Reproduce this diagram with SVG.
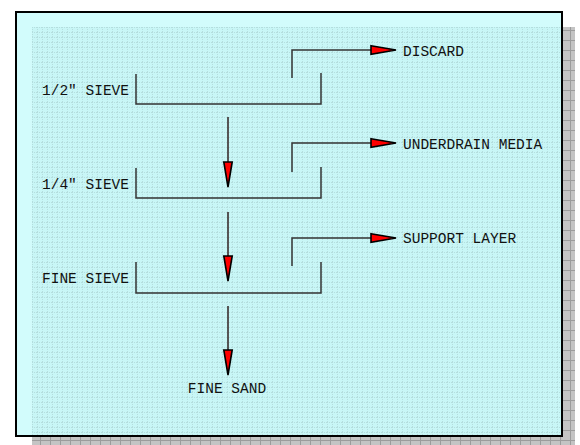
<svg xmlns="http://www.w3.org/2000/svg" width="580" height="445" viewBox="0 0 580 445">
<defs>
<pattern id="shgrid" x="0" y="0" width="10" height="10" patternUnits="userSpaceOnUse">
<rect width="10" height="10" fill="#c4c4c4"/>
<path d="M0 0.5H10M0.5 0V10" stroke="#9c9c9c" stroke-width="1"/>
</pattern>
<pattern id="dots" x="32" y="27" width="5" height="5" patternUnits="userSpaceOnUse">
<rect width="5" height="5" fill="#c8f6f6"/>
<path d="M0 0.5H5M0.5 0V5" stroke="#b4dede" stroke-width="1" stroke-dasharray="1 1"/>
</pattern>
<marker id="ah" markerUnits="userSpaceOnUse" markerWidth="30" markerHeight="14" refX="0" refY="5" orient="auto" overflow="visible">
<path d="M0 0.8 L25 5 L0 9.2 Z" fill="#ff0000" stroke="#000" stroke-width="1.6" stroke-linejoin="miter"/>
</marker>
</defs>
<style>
.ln{fill:none;stroke:#333;stroke-width:1.5}
.ar{fill:none;stroke:#555;stroke-width:2}
.t{font-family:"Liberation Mono","DejaVu Sans Mono",monospace;font-size:14.5px;fill:#111}
</style>
<rect x="0" y="0" width="580" height="445" fill="#fff"/>
<rect x="32" y="27" width="543" height="418" fill="url(#shgrid)"/>
<rect x="16" y="12" width="546" height="424" fill="#d2fcfc" stroke="#000" stroke-width="2"/>
<rect x="32" y="27" width="529" height="408" fill="url(#dots)"/>

<g id="sieve1">
<path class="ln" d="M136 74V104H321V73"/>
<text class="t" x="129" y="95" text-anchor="end">1/2" SIEVE</text>
</g>
<g id="sieve2">
<path class="ln" d="M136 168V198H321V167"/>
<text class="t" x="129" y="189" text-anchor="end">1/4" SIEVE</text>
</g>
<g id="sieve3">
<path class="ln" d="M136 262V293H321V262"/>
<text class="t" x="129" y="283" text-anchor="end">FINE SIEVE</text>
</g>
<g id="discard"><text class="t" x="403" y="56">DISCARD</text></g>
<g id="underdrain"><text class="t" x="403" y="149">UNDERDRAIN MEDIA</text></g>
<g id="support"><text class="t" x="403" y="243">SUPPORT LAYER</text></g>
<g id="finesand"><text class="t" x="227" y="393" text-anchor="middle">FINE SAND</text></g>

<g id="connectors">
<path class="ln" d="M292 78V50H371" marker-end="url(#ah)"/>
<path class="ln" d="M292 172V143H371" marker-end="url(#ah)"/>
<path class="ln" d="M292 266V238H371" marker-end="url(#ah)"/>
<path class="ar" d="M228 117V162" marker-end="url(#ah)"/>
<path class="ar" d="M228 212V256" marker-end="url(#ah)"/>
<path class="ar" d="M228 306V350" marker-end="url(#ah)"/>
</g>
</svg>
